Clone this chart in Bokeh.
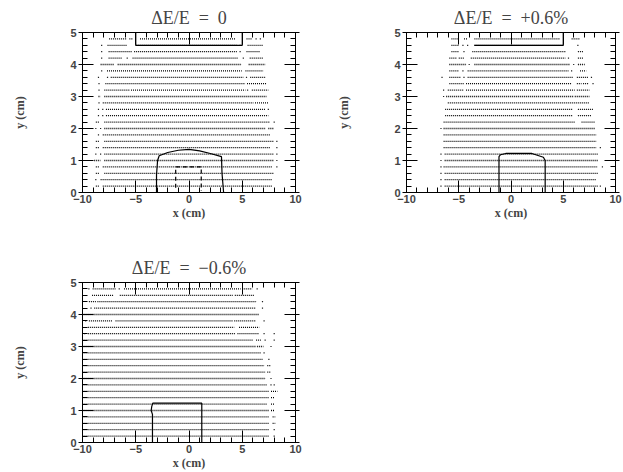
from bokeh.plotting import figure
from bokeh.models import (Range1d, SingleIntervalTicker, LinearAxis, ColumnDataSource,
                          CustomLabelingPolicy)
from bokeh.layouts import column, row
from bokeh.embed import file_html
from bokeh.resources import INLINE

# Row heights of the scan (cm), top to bottom
ROW_Y = [4.8, 4.6, 4.4, 4.2, 4.0, 3.8, 3.6, 3.4, 3.2, 3.0, 2.8, 2.6,
         2.4, 2.2, 2.0, 1.8, 1.6, 1.4, 1.2, 1.0, 0.8, 0.6, 0.4, 0.2]

TITLES = ["\u0394E/E \u00a0=\u00a0 0", "\u0394E/E \u00a0=\u00a0 +0.6%",
          "\u0394E/E \u00a0=\u00a0 \u22120.6%"]

# ---- Panel 1 : dE/E = 0 ----
P1_SEGS = [
    [(-7.5, -5.9), (-5.6, -5.3), (-4.6, 4.35), (5.4, 5.9)],
    [(-7.65, -5.8), (-5.0, 4.5), (5.5, 7.0)],
    [(-7.55, -5.3), (-5.15, 4.5), (5.4, 6.7)],
    [(-7.55, -6.25), (-5.3, 4.65), (5.7, 7.0)],
    [(-8.3, -7.0), (-6.7, 4.95), (5.6, 7.15)],
    [(-7.7, 4.95), (5.3, 7.0)],
    [(-7.35, 5.1), (5.75, 7.15)],
    [(-7.85, 5.3), (5.45, 7.3)],
    [(-7.95, -5.6), (-5.45, 5.3), (5.9, 7.45)],
    [(-8.5, -8.3), (-7.95, 7.3)],
    [(-8.1, 6.05), (6.2, 7.45)],
    [(-7.8, 7.15)],
    [(-7.8, 7.45)],
    [(-8.75, -8.4), (-7.95, 7.6)],
    [(-7.95, 7.15), (7.45, 7.95)],
    [(-8.1, 7.6)],
    [(-8.75, -8.4), (-7.95, 7.95)],
    [(-8.75, -8.4), (-8.1, 7.6)],
    [(-7.95, 7.95)],
    [(-8.9, -8.3), (-7.95, 7.95)],
    [(-8.75, -8.4), (-8.1, 7.8)],
    [(-8.75, -8.4), (-7.95, 7.95)],
    [(-8.3, 7.8)],
    [(-8.75, -8.4), (-8.1, 7.8)],
]
P1_DOTS = [
    [6.3, 6.7], [-8.2, 4.8], [-8.2, 4.8], [-8.2, -5.8, 5.1], [], [-8.2],
    [-8.5, -7.65, 5.4], [-8.45], [-8.45, 5.5], [], [-8.45], [-8.5, -8.1, 7.45],
    [-8.5, -8.1], [8.0], [-8.75, -8.3], [-8.5], [8.25], [8.25],
    [-8.75, -8.3, 8.25], [8.25], [8.25], [], [-8.75], [],
]
P1_OUT_X = [-3.05, -3.05, -2.95, -2.8, -2.0, -1.0, 0.0, 1.0, 2.0, 3.05, 3.1, 3.25]
P1_OUT_Y = [0.0, 0.55, 1.0, 1.15, 1.25, 1.32, 1.35, 1.3, 1.22, 1.12, 0.6, 0.0]
P1_BOX_X = [-5.0, -5.0, 5.0, 5.0]
P1_BOX_Y = [5.0, 4.6, 4.6, 5.0]
P1_DASH_X = [-1.25, -1.25, 1.15, 1.15]
P1_DASH_Y = [0.15, 0.8, 0.8, 0.05]

# ---- Panel 2 : dE/E = +0.6% ----
P2_SEGS = [
    [(-5.7, -4.95), (-4.5, -4.15), (-3.5, 4.7), (5.8, 6.6)],
    [(-5.7, -4.95), (-3.5, 5.0)],
    [(-5.7, -4.95), (-3.7, 5.2), (6.4, 6.9)],
    [(-5.9, -5.2), (-5.0, -4.5), (-3.85, 5.2), (6.4, 6.9)],
    [(-5.9, -4.3), (-3.5, 5.65), (6.4, 7.05)],
    [(-5.9, -4.95), (-4.15, 5.5), (6.6, 7.2)],
    [(-5.9, -4.8), (-4.15, 5.95), (6.3, 7.4)],
    [(-5.9, -4.5), (-4.3, 5.8), (6.3, 6.75), (6.9, 7.4)],
    [(-6.05, -4.5), (-4.3, 6.1), (6.3, 7.5)],
    [(-6.2, 5.95), (6.1, 7.5)],
    [(-6.05, 7.5)],
    [(-6.3, 5.95), (6.4, 7.85)],
    [(-6.3, 5.95), (6.4, 7.7)],
    [(-6.45, 6.1), (6.75, 8.0)],
    [(-6.45, 8.0)],
    [(-6.45, 8.15)],
    [(-6.45, 8.15)],
    [(-6.45, 8.15)],
    [(-6.35, 8.3)],
    [(-6.35, 8.3)],
    [(-6.45, 8.3)],
    [(-6.35, 8.3)],
    [(-6.35, 8.15)],
    [(-6.35, 8.3)],
]
P2_DOTS = [
    [], [-4.6, -4.15, 6.4], [-4.5], [5.5], [-4.0, 6.0], [-4.6, 5.8],
    [-6.6, -4.5, 7.7], [7.85], [-6.45], [-6.45], [], [],
    [], [], [-6.7], [], [], [8.55],
    [-6.7], [-6.7], [-6.7, 8.75], [-6.7], [-6.7], [-6.7, 8.55],
]
P2_OUT_X = [-1.15, -1.15, -1.0, -0.5, 2.0, 3.1, 3.27, 3.27]
P2_OUT_Y = [0.0, 1.12, 1.18, 1.22, 1.22, 1.1, 1.0, 0.0]
P2_BOX_X = [-3.5, 5.0, 5.0]
P2_BOX_Y = [4.6, 4.6, 5.0]

# ---- Panel 3 : dE/E = -0.6% ----
P3_SEGS = [
    [(-9.05, -6.9), (-6.1, 4.85), (5.0, 5.95)],
    [(-9.1, -7.1), (-6.5, 4.1), (4.3, 6.1)],
    [(-9.4, -8.75), (-8.6, 6.3)],
    [(-8.9, 6.3)],
    [(-9.9, 6.6)],
    [(-9.4, -7.2), (-6.9, 4.1), (4.25, 6.3)],
    [(-9.5, 4.25), (4.7, 6.6)],
    [(-9.5, 4.4), (4.55, 6.6)],
    [(-9.9, 6.0), (6.3, 6.75)],
    [(-9.9, 6.3), (6.4, 7.0)],
    [(-9.9, 6.75)],
    [(-9.9, 6.9)],
    [(-9.9, 7.05), (7.35, 7.7)],
    [(-9.9, 7.2), (7.35, 7.7)],
    [(-9.9, 7.2)],
    [(-9.9, 7.35)],
    [(-9.9, 7.5), (7.7, 8.3)],
    [(-9.9, 7.5), (7.7, 8.0)],
    [(-9.9, 7.35), (7.7, 8.0)],
    [(-9.9, 7.5), (7.7, 8.0)],
    [(-9.9, 7.5), (7.85, 8.1)],
    [(-9.9, 7.5), (7.85, 8.1)],
    [(-9.9, 7.5)],
    [(-9.9, 7.5)],
]
P3_DOTS = [
    [-9.4, -6.55, 6.4], [], [6.9], [-9.2, 6.9], [], [-9.7, 7.05],
    [], [-9.8, 7.05, 8.0], [7.15, 8.0], [7.7], [7.05], [7.5],
    [], [], [7.7], [7.7, 8.0], [], [],
    [], [], [], [], [8.0], [8.0],
]
P3_OUT_X = [-3.43, -3.43, -3.55, -3.5, -3.4, 1.2, 1.2]
P3_OUT_Y = [0.0, 0.88, 1.0, 1.12, 1.23, 1.23, 0.0]

TICK_FONT = "Liberation Sans"
LABEL_FONT = "Liberation Serif"
MINUS = {-10: "\u221210", -5: "\u22125"}
DOT_COLOR = "black"


def no_labels():
    return CustomLabelingPolicy(code="""
        for (const i of [...indices]) { indices.unset(i) }
        return indices
    """)


def add_axes(p):
    common = dict(axis_line_color="black", major_tick_line_color="black",
                  minor_tick_line_color="black", minor_tick_in=5, minor_tick_out=0)
    xb = LinearAxis(ticker=SingleIntervalTicker(interval=5, num_minor_ticks=5),
                    axis_label="x (cm)", major_tick_in=12, major_tick_out=0,
                    major_label_overrides=MINUS, major_label_standoff=2,
                    major_label_text_font=TICK_FONT, major_label_text_font_style="bold",
                    major_label_text_font_size="11px",
                    axis_label_text_font=LABEL_FONT, axis_label_text_font_style="bold",
                    axis_label_text_font_size="12px", axis_label_standoff=0, **common)
    xt = LinearAxis(ticker=SingleIntervalTicker(interval=5, num_minor_ticks=5),
                    major_tick_in=12, major_tick_out=0, major_label_text_font_size="1px",
                    major_label_policy=no_labels(), major_label_standoff=0, **common)
    yl = LinearAxis(ticker=SingleIntervalTicker(interval=1, num_minor_ticks=5),
                    axis_label="y (cm)", major_tick_in=11, major_tick_out=4,
                    major_label_standoff=2,
                    major_label_text_font=TICK_FONT, major_label_text_font_style="bold",
                    major_label_text_font_size="11px",
                    axis_label_text_font=LABEL_FONT, axis_label_text_font_style="bold",
                    axis_label_text_font_size="12px", axis_label_standoff=40, **common)
    yr = LinearAxis(ticker=SingleIntervalTicker(interval=1, num_minor_ticks=5),
                    major_tick_in=11, major_tick_out=4, major_label_text_font_size="1px",
                    major_label_policy=no_labels(), major_label_standoff=0, **common)
    p.add_layout(xb, "below")
    p.add_layout(xt, "above")
    p.add_layout(yl, "left")
    p.add_layout(yr, "right")


def make_panel(title, segs, dots, width, height, bl, br, bt, bb):
    p = figure(width=width, height=height, x_range=Range1d(-10, 10), y_range=Range1d(0, 5),
               x_axis_type=None, y_axis_type=None, output_backend="svg",
               toolbar_location=None, min_border_left=bl, min_border_right=br,
               min_border_top=bt, min_border_bottom=bb)
    p.title.text = title
    p.title.align = "center"
    p.title.text_font = LABEL_FONT
    p.title.text_font_style = "normal"
    p.title.text_font_size = "18px"
    p.title.standoff = 2
    p.outline_line_color = "black"
    p.background_fill_color = "white"
    p.border_fill_color = "white"
    add_axes(p)

    x0, x1, ys = [], [], []
    for y, row_segs in zip(ROW_Y, segs):
        for a, b in row_segs:
            x0.append(a)
            x1.append(b)
            ys.append(y)
    src = ColumnDataSource(dict(x0=x0, x1=x1, y=ys))
    p.segment(x0="x0", y0="y", x1="x1", y1="y", source=src, line_color=DOT_COLOR,
              line_width=1.3, line_dash="1 1")

    dx, dy = [], []
    for y, row_dots in zip(ROW_Y, dots):
        for d in row_dots:
            dx.append(d)
            dy.append(y)
    p.scatter(x=dx, y=dy, marker="square", size=1.2, line_width=0, color="#222222")
    return p


p1 = make_panel(TITLES[0], P1_SEGS, P1_DOTS, 310, 240, 82, 15, 32, 48)
p1.line(P1_OUT_X, P1_OUT_Y, line_color="black", line_width=1.2)
p1.line(P1_BOX_X, P1_BOX_Y, line_color="black", line_width=1.2)
p1.line(P1_DASH_X, P1_DASH_Y, line_color="black", line_width=1.2, line_dash="4 3")

p2 = make_panel(TITLES[1], P2_SEGS, P2_DOTS, 313, 240, 96, 6, 32, 48)
p2.line(P2_OUT_X, P2_OUT_Y, line_color="black", line_width=1.2)
p2.line(P2_BOX_X, P2_BOX_Y, line_color="black", line_width=1.2)

p3 = make_panel(TITLES[2], P3_SEGS, P3_DOTS, 310, 232, 82, 15, 42, 30)
p3.line(P3_OUT_X, P3_OUT_Y, line_color="black", line_width=1.2)

layout = column(row(p1, p2), p3)

with open("out.html", "w") as f:
    f.write(file_html(layout, INLINE))
